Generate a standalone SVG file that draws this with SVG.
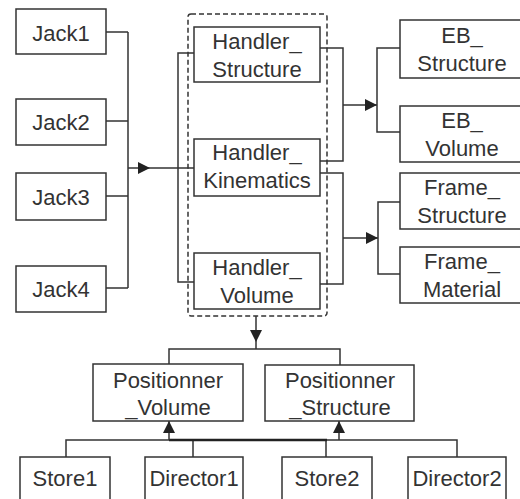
<svg xmlns="http://www.w3.org/2000/svg" width="520" height="499" viewBox="0 0 520 499">
  <style>
    .box { fill: #ffffff; stroke: #333333; stroke-width: 1.5; }
    .lbl { font-family: "Liberation Sans", Arial, sans-serif; font-size: 22px; fill: #333333; text-anchor: middle; }
    .wire { fill: none; stroke: #333333; stroke-width: 1.5; }
    .bus { fill: none; stroke: #222222; stroke-width: 2.5; }
    .group { fill: none; stroke: #333333; stroke-width: 1.5; stroke-dasharray: 5 3; }
  </style>
  <defs>
    <marker id="arrow" viewBox="0 0 12 12" refX="12" refY="6" markerWidth="12" markerHeight="12" markerUnits="userSpaceOnUse" orient="auto">
      <path d="M0,0 L12,6 L0,12 Z" fill="#222222"/>
    </marker>
  </defs>

  <rect width="520" height="499" fill="#ffffff"/>

  <!-- connectors -->
  <g id="connectors">
    <!-- Jack bus into the handler group -->
    <path class="wire" d="M106,32 H128 M106,121 H128 M106,196 H128 M106,288 H128 M128,32 V288"/>
    <path class="wire" d="M128,168 H150" marker-end="url(#arrow)"/>
    <path class="wire" d="M150,168 H194"/>
    <!-- handler left bracket -->
    <path class="wire" d="M194,53 H178 V282 H194"/>
    <!-- handlers to EB -->
    <path class="wire" d="M320,48 H343 V161 H320"/>
    <path class="wire" d="M343,105 H377" marker-end="url(#arrow)"/>
    <path class="wire" d="M400,48 H377 V132 H400"/>
    <!-- handlers to Frame -->
    <path class="wire" d="M320,173 H343 V284 H320"/>
    <path class="wire" d="M343,238 H378" marker-end="url(#arrow)"/>
    <path class="wire" d="M400,202 H378 V274 H400"/>
    <!-- handler group down to positionners -->
    <path class="wire" d="M256,316 V342" marker-end="url(#arrow)"/>
    <path class="wire" d="M256,342 V349 M169,364 V349 H340 V365"/>
    <!-- stores / directors up to positionners -->
    <path class="wire" d="M66,457 V440 H457 V457 M193,440 V457 M326,440 V457"/>
    <path class="bus" d="M169,440 H327"/>
    <path class="wire" d="M169,440 V421" marker-end="url(#arrow)"/>
    <path class="wire" d="M339,440 V421" marker-end="url(#arrow)"/>
  </g>

  <!-- handler group outline -->
  <rect class="group" x="188" y="14" width="139" height="302" rx="3"/>

  <g id="jack1"><rect class="box" x="16" y="9" width="90" height="45"/><text class="lbl" x="61" y="41">Jack1</text></g>
  <g id="jack2"><rect class="box" x="16" y="99" width="90" height="46"/><text class="lbl" x="61" y="130">Jack2</text></g>
  <g id="jack3"><rect class="box" x="16" y="173" width="90" height="47"/><text class="lbl" x="61" y="205">Jack3</text></g>
  <g id="jack4"><rect class="box" x="16" y="266" width="90" height="46"/><text class="lbl" x="61" y="297">Jack4</text></g>

  <g id="handler_structure"><rect class="box" x="194" y="27" width="126" height="55"/><text class="lbl" x="257" y="49">Handler_</text><text class="lbl" x="257" y="77">Structure</text></g>
  <g id="handler_kinematics"><rect class="box" x="194" y="139" width="126" height="57"/><text class="lbl" x="257" y="160">Handler_</text><text class="lbl" x="257" y="188">Kinematics</text></g>
  <g id="handler_volume"><rect class="box" x="194" y="253" width="126" height="56"/><text class="lbl" x="257" y="275">Handler_</text><text class="lbl" x="257" y="303">Volume</text></g>

  <g id="eb_structure"><rect class="box" x="400" y="20" width="124" height="58"/><text class="lbl" x="462" y="43">EB_</text><text class="lbl" x="462" y="71">Structure</text></g>
  <g id="eb_volume"><rect class="box" x="400" y="106" width="124" height="56"/><text class="lbl" x="462" y="128">EB_</text><text class="lbl" x="462" y="156">Volume</text></g>
  <g id="frame_structure"><rect class="box" x="400" y="173" width="124" height="56"/><text class="lbl" x="462" y="195">Frame_</text><text class="lbl" x="462" y="223">Structure</text></g>
  <g id="frame_material"><rect class="box" x="400" y="247" width="124" height="56"/><text class="lbl" x="462" y="269">Frame_</text><text class="lbl" x="462" y="297">Material</text></g>

  <g id="positionner_volume"><rect class="box" x="93" y="364" width="150" height="57"/><text class="lbl" x="168" y="388">Positionner</text><text class="lbl" x="168" y="415">_Volume</text></g>
  <g id="positionner_structure"><rect class="box" x="265" y="365" width="149" height="56"/><text class="lbl" x="340" y="388">Positionner</text><text class="lbl" x="340" y="415">_Structure</text></g>

  <g id="store1"><rect class="box" x="20" y="457" width="90" height="50"/><text class="lbl" x="65" y="486">Store1</text></g>
  <g id="director1"><rect class="box" x="145" y="457" width="98" height="50"/><text class="lbl" x="194" y="486">Director1</text></g>
  <g id="store2"><rect class="box" x="282" y="457" width="90" height="50"/><text class="lbl" x="327" y="486">Store2</text></g>
  <g id="director2"><rect class="box" x="408" y="457" width="98" height="50"/><text class="lbl" x="457" y="486">Director2</text></g>
</svg>
